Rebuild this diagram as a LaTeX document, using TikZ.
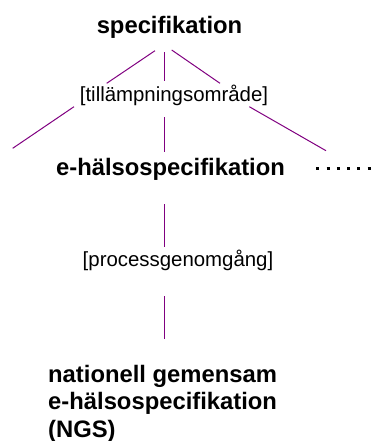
\documentclass[tikz,border=0pt]{standalone}
\usepackage{fontspec}
\setmainfont{Liberation Sans}
\definecolor{edgepurple}{RGB}{128,0,128}
\begin{document}
\begin{tikzpicture}[x=1pt,y=-1pt]
        \tikzstyle{term}=[font=\fontsize{23.8}{27.5}\selectfont\bfseries,inner sep=0pt]
        \tikzstyle{facet}=[font=\fontsize{20.4}{24}\selectfont,inner sep=0pt]
        \tikzstyle{edge}=[draw=edgepurple, line width=1pt]
        \tikzstyle{more}=[draw=black, line width=3pt, dash pattern=on 3pt off 7.3pt]
       \useasboundingbox (0,0) rectangle (370,441);
       \begin{scope}
         \node [term,anchor=base] (spec) at (169.5,33.3) {specifikation};
         \node [facet,anchor=base] (scope) at (174,101.7) {[tillämpningsområde]};
         \node [term,anchor=base] (ehs) at (170.5,175) {e-hälsospecifikation};
         \node [facet,anchor=base] (proc) at (178,266.7) {[processgenomgång]};
         \node [term,anchor=north west,align=left] (ngs) at (48,365) {nationell gemensam\\e-hälsospecifikation\\(NGS)};

         \coordinate (spec-l) at (155,50.7);
         \coordinate (spec-m) at (164,52.3);
         \coordinate (spec-r) at (171.7,50);
         \coordinate (scope-tl) at (106.7,83.3);
         \coordinate (scope-tm) at (164,81);
         \coordinate (scope-tr) at (220,83.3);
         \coordinate (scope-bl) at (74,106.7);
         \coordinate (scope-bm) at (164,117.3);
         \coordinate (scope-br) at (249.3,106.7);
         \coordinate (leaf-l) at (12.7,148.3);
         \coordinate (ehs-t) at (164,151.7);
         \coordinate (leaf-r) at (326,150.7);
         \coordinate (ehs-b) at (164,204);
         \coordinate (proc-t) at (164,247.3);
         \coordinate (proc-b) at (164,296);
         \coordinate (ngs-t) at (164,339.3);
         \coordinate (dots) at (316.2,168.3);

         \path[edge] (spec-l) edge (scope-tl);
         \path[edge] (spec-m) edge (scope-tm);
         \path[edge] (spec-r) edge (scope-tr);
         \path[edge] (scope-bl) edge (leaf-l);
         \path[edge] (scope-bm) edge (ehs-t);
         \path[edge] (scope-br) edge (leaf-r);
         \path[edge] (ehs-b) edge (proc-t);
         \path[edge] (proc-b) edge (ngs-t);
         \path[more] (dots) -- ++(56,0);
        \end{scope}
      \end{tikzpicture}
\end{document}
